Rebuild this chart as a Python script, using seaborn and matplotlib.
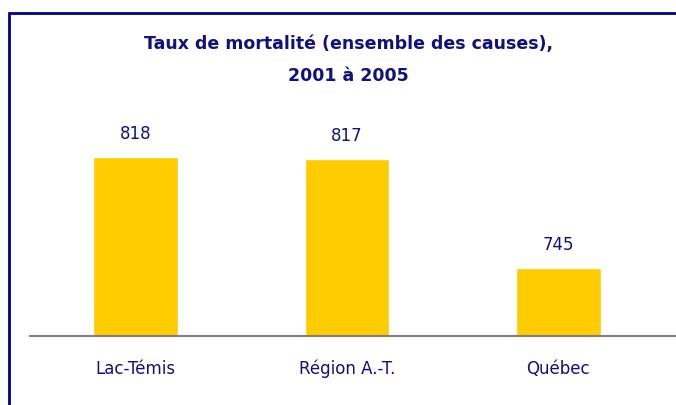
import matplotlib
matplotlib.use("Agg")
import matplotlib.pyplot as plt
import seaborn as sns
import pandas as pd
from matplotlib.patches import Rectangle

# data
regions = ["Lac-Témis", "Région A.-T.", "Québec"]
taux = [818, 817, 745]

title = "Taux de mortalité (ensemble des causes),\n2001 à 2005"
navy = "#10107f"
gold = "#ffcc00"

sns.set_theme(style="white")
plt.rcParams["font.family"] = ["DejaVu Sans"]

df = pd.DataFrame({"region": regions, "taux": taux})

fig = plt.figure(figsize=(6.76, 4.05), dpi=100)
ax = fig.add_axes([0.044, 0.1704, 0.956, 0.533])

sns.barplot(data=df, x="region", y="taux", color=gold, width=0.40,
            saturation=1, ax=ax)

ax.set_ylim(700, 842.5)
ax.set_xlim(-0.5, 2.556)

# value labels
for i, v in enumerate(taux):
    ax.annotate(str(v), (i, v), xytext=(0, 10), textcoords="offset points",
                ha="center", va="bottom", color=navy, fontsize=12)

for s in ["top", "right", "left"]:
    ax.spines[s].set_visible(False)
ax.spines["bottom"].set_color("#808080")
ax.spines["bottom"].set_linewidth(1.5)
ax.set_yticks([])
ax.set_xlabel("")
ax.set_ylabel("")
ax.tick_params(axis="x", length=0, pad=17, labelsize=12, colors=navy)

fig.text(0.515, 0.852, title, ha="center", va="center", color=navy,
         fontsize=12.5, fontweight="bold", linespacing=2.0)

# frame around the chart (cut on the right and bottom)
fig.patches.append(Rectangle((8.5 / 676, -0.1), 1.2, 0.1 + (405 - 13) / 405,
                             transform=fig.transFigure, fill=False,
                             edgecolor="#000080", linewidth=2))

fig.savefig("out.png", dpi=100)
